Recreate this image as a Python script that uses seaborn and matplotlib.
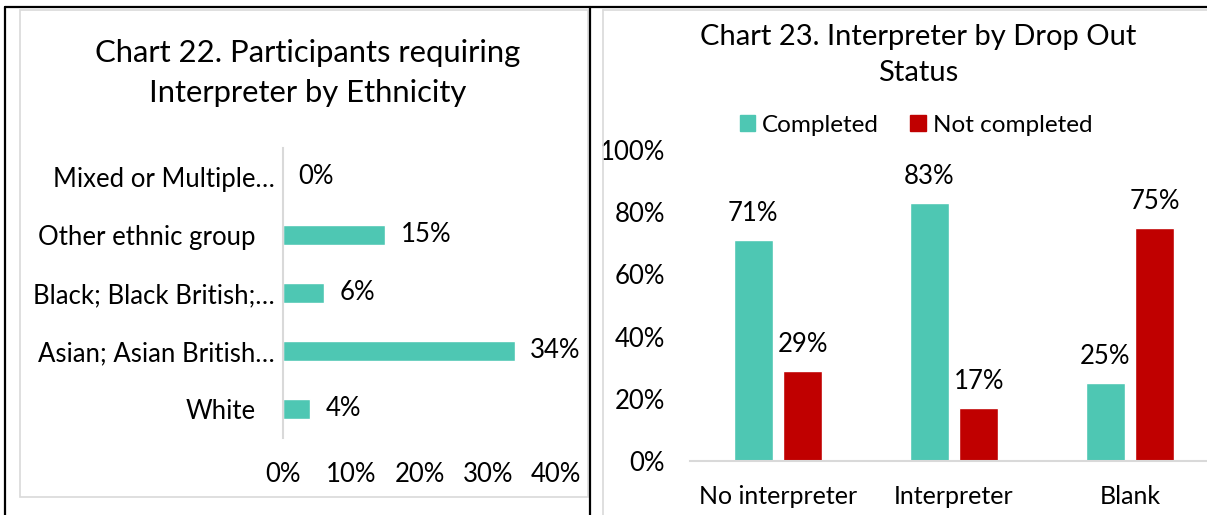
import pandas as pd
import matplotlib.pyplot as plt
import matplotlib.transforms as mtransforms
import seaborn as sns
from matplotlib.lines import Line2D
from matplotlib.patches import Rectangle, Patch

# Chart 22 data
ethnicity = ["Mixed or Multiple…", "Other ethnic group", "Black; Black British;…",
             "Asian; Asian British…", "White"]
ethnicity_pct = [0, 15, 6, 34, 4]

# Chart 23 data
status_groups = ["No interpreter", "Interpreter", "Blank"]
completed_pct = [71, 83, 25]
not_completed_pct = [29, 17, 75]
series_names = ["Completed", "Not completed"]

teal = "#4EC7B3"
red = "#C00000"
gray = "#D9D9D9"
fs = 18.5

sns.set_theme(style="white")
plt.rcParams["font.family"] = ["Lato", "DejaVu Sans"]
plt.rcParams["text.color"] = "black"
plt.rcParams["xtick.color"] = "black"
plt.rcParams["ytick.color"] = "black"

W, H = 1207, 515
fig = plt.figure(figsize=(W / 100, H / 100), dpi=100)


def px_box(x0, y0, x1, y1):
    # pixel coords (top-left origin) -> figure fraction [l, b, w, h]
    return [x0 / W, 1 - y1 / H, (x1 - x0) / W, (y1 - y0) / H]


# ---- left chart ----
ax1 = fig.add_axes(px_box(283, 148, 556, 438))
df1 = pd.DataFrame({"group": ethnicity, "pct": ethnicity_pct})
sns.barplot(data=df1, y="group", x="pct", color=teal, saturation=1, width=0.35, ax=ax1)
ax1.set_xlim(0, 40)
ax1.set_xticks([0, 10, 20, 30, 40])
ax1.set_xticklabels([f"{v}%" for v in [0, 10, 20, 30, 40]])
ax1.set_xlabel("")
ax1.set_ylabel("")
for s in ["top", "right", "bottom"]:
    ax1.spines[s].set_visible(False)
ax1.spines["left"].set_color(gray)
ax1.spines["left"].set_linewidth(1.5)
ax1.tick_params(axis="x", length=0, pad=17, labelsize=fs)
ax1.tick_params(axis="y", length=0, pad=19.5, labelsize=fs)
# excel lets the truncated labels run a bit closer to the axis
shift = mtransforms.ScaledTranslation(19 / 100, 0, fig.dpi_scale_trans)
for lab in ax1.get_yticklabels():
    if lab.get_text().endswith("…"):
        lab.set_transform(lab.get_transform() + shift)
ax1.bar_label(ax1.containers[0], fmt="%.0f%%", padding=11, fontsize=fs)
fig.text(308 / W, 1 - 73 / H, "Chart 22. Participants requiring\nInterpreter by Ethnicity",
         ha="center", va="center", fontsize=22.3, linespacing=1.52)

# ---- right chart ----
ax2 = fig.add_axes(px_box(690, 150, 1218, 461))
df2 = pd.DataFrame({
    "group": status_groups * 2,
    "series": [series_names[0]] * 3 + [series_names[1]] * 3,
    "pct": completed_pct + not_completed_pct,
})
sns.barplot(data=df2, x="group", y="pct", hue="series", palette=[teal, red],
            saturation=1, width=0.568, gap=0.22, ax=ax2, legend=False)
ax2.set_ylim(0, 100)
ax2.set_yticks([0, 20, 40, 60, 80, 100])
ax2.set_yticklabels([f"{v}%" for v in [0, 20, 40, 60, 80, 100]])
ax2.set_xlim(-0.5, 2.5)
ax2.set_xlabel("")
ax2.set_ylabel("")
for s in ["top", "right", "left"]:
    ax2.spines[s].set_visible(False)
ax2.spines["bottom"].set_color(gray)
ax2.spines["bottom"].set_linewidth(1.5)
ax2.tick_params(axis="x", length=0, pad=17, labelsize=18)
ax2.tick_params(axis="y", length=0, pad=18, labelsize=fs)
for c in ax2.containers:
    ax2.bar_label(c, fmt="%.0f%%", padding=10, fontsize=fs)

fig.text(918 / W, 1 - 55 / H, "Chart 23. Interpreter by Drop Out\nStatus",
         ha="center", va="center", fontsize=21, linespacing=1.46)
handles = [Patch(color=teal, label=series_names[0]), Patch(color=red, label=series_names[1])]
fig.legend(handles=handles, loc="center", bbox_to_anchor=(916 / W, 1 - 125 / H),
           ncol=2, frameon=False, fontsize=17.5, handlelength=0.62, handleheight=0.62,
           handletextpad=0.3, columnspacing=1.3, borderpad=0)

# ---- panel borders ----
fig.add_artist(Rectangle((20 / W, 1 - 497 / H), (588 - 20) / W, (497 - 10) / H,
                         transform=fig.transFigure, fill=False, edgecolor=gray, lw=1.2))
fig.add_artist(Line2D([603 / W, 603 / W], [0, 1 - 10 / H], transform=fig.transFigure,
                      color=gray, lw=1.2))
fig.add_artist(Line2D([603 / W, 1], [1 - 10 / H, 1 - 10 / H], transform=fig.transFigure,
                      color=gray, lw=1.2))
for x in [5, 590]:
    fig.add_artist(Line2D([x / W, x / W], [0, 1 - 7 / H], transform=fig.transFigure,
                          color="black", lw=1.6))
fig.add_artist(Line2D([5 / W, 1], [1 - 7 / H, 1 - 7 / H], transform=fig.transFigure,
                      color="black", lw=1.6))

fig.savefig("out.png", dpi=100, facecolor="white")
